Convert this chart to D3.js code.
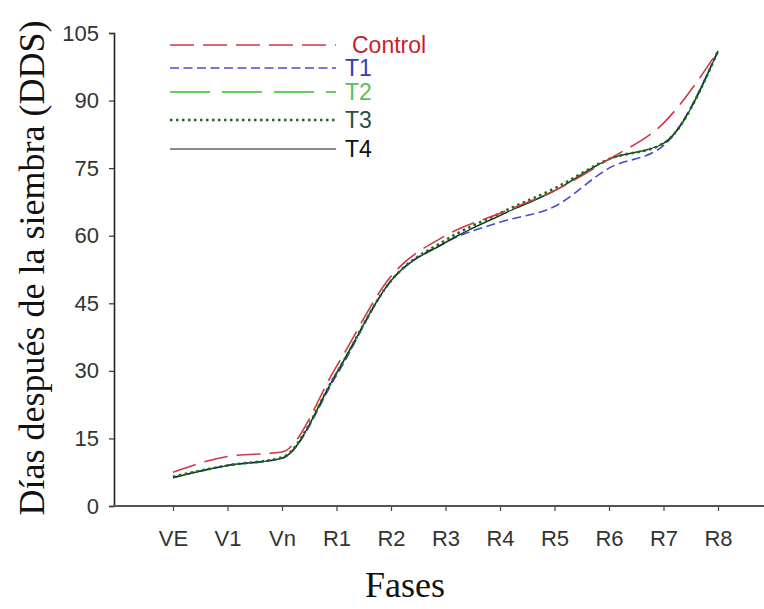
<!DOCTYPE html>
<html>
<head>
<meta charset="utf-8">
<script src="https://cdn.jsdelivr.net/npm/d3@7"></script>
<style>
  html, body { margin: 0; padding: 0; background: #fff; }
  svg { display: block; }
</style>
</head>
<body>
<svg id="chart" width="764" height="609"></svg>
<script>
const categories = ["VE","V1","Vn","R1","R2","R3","R4","R5","R6","R7","R8"];
const yTicks = [0, 15, 30, 45, 60, 75, 90, 105];
const controlValues = [7.5, 11, 12, 31, 51, 60, 65, 70, 77, 85, 101];
const t1Values = [6.3, 9, 10.6, 29, 50, 58.5, 63, 66.5, 75, 80, 101];
const t2Values = [6.3, 9, 10.6, 29.5, 50, 58.5, 64.5, 70, 77, 80.5, 101];
const t3Values = [6.5, 9, 10.8, 29.5, 50, 59, 65, 70.5, 77, 80.5, 101];
const t4Values = [6.3, 9, 10.6, 29.5, 50, 58.5, 64.5, 70, 77, 80.5, 101];
const seriesNames = ["Control", "T1", "T2", "T3", "T4"];

const styles = {
  Control: {color: "#d0384a", text: "#c81e30", dash: "24,9", width: 1.6},
  T1: {color: "#4a4ad0", text: "#3a3ab0", dash: "9,4.5", width: 1.6},
  T2: {color: "#5ed05e", text: "#58c058", dash: "40,12", width: 1.8},
  T3: {color: "#1e6a1e", text: "#2e4e3e", dash: "2.5,3.5", width: 2.6},
  T4: {color: "#1a1a1a", text: "#111", dash: null, width: 1.1}
};
const seriesData = {
  Control: controlValues, T1: t1Values, T2: t2Values, T3: t3Values, T4: t4Values
};

const svg = d3.select("#chart");
const x = d3.scalePoint().domain(categories).range([173, 718]);
const y = d3.scaleLinear().domain([0, 105]).range([506, 33]);

// Y axis
const yAxis = svg.append("g")
  .attr("transform", "translate(114,0)")
  .call(d3.axisLeft(y).tickValues(yTicks).tickSize(5).tickPadding(10));
yAxis.select(".domain").attr("stroke", "#222").attr("stroke-width", 1.6);
yAxis.selectAll(".tick line").attr("stroke", "#333").attr("stroke-width", 1.2);
yAxis.selectAll("text").attr("font-family", "Liberation Sans, Arial, sans-serif")
  .attr("font-size", 22).attr("fill", "#333");

// X axis
const xAxis = svg.append("g")
  .attr("transform", "translate(0,506)")
  .call(d3.axisBottom(x).tickSize(5).tickPadding(19));
xAxis.select(".domain").remove();
xAxis.selectAll(".tick line").attr("stroke", "#444").attr("stroke-width", 1.2);
xAxis.selectAll("text").attr("font-family", "Liberation Sans, Arial, sans-serif")
  .attr("font-size", 22).attr("fill", "#333");
svg.append("line").attr("x1", 113).attr("x2", 764).attr("y1", 506).attr("y2", 506)
  .attr("stroke", "#555").attr("stroke-width", 2);

// Lines
const line = d3.line()
  .x((d, i) => x(categories[i]))
  .y(d => y(d))
  .curve(d3.curveMonotoneX);

["T2", "T1", "T4", "T3", "Control"].forEach(name => {
  const s = styles[name];
  svg.append("path")
    .datum(seriesData[name])
    .attr("d", line)
    .attr("fill", "none")
    .attr("stroke", s.color)
    .attr("stroke-width", s.width)
    .attr("stroke-dasharray", s.dash);
});

// Legend
const legendY = [45, 68, 92, 120, 149];
const legend = svg.append("g");
seriesNames.forEach((name, i) => {
  const s = styles[name];
  legend.append("line")
    .attr("x1", 170).attr("x2", 336)
    .attr("y1", legendY[i]).attr("y2", legendY[i])
    .attr("stroke", s.color)
    .attr("stroke-width", s.width)
    .attr("stroke-dasharray", s.dash);
  legend.append("text")
    .attr("x", i === 0 ? 352 : 345)
    .attr("y", legendY[i])
    .attr("dy", "0.36em")
    .attr("font-family", "Liberation Sans, Arial, sans-serif")
    .attr("font-size", 23)
    .attr("fill", s.text)
    .text(name);
});

// Axis titles
svg.append("text")
  .attr("transform", "translate(44,268) rotate(-90)")
  .attr("text-anchor", "middle")
  .attr("font-family", "Liberation Serif, Times New Roman, serif")
  .attr("font-size", 36)
  .attr("fill", "#111")
  .text("Días después de la siembra (DDS)");
svg.append("text")
  .attr("x", 405).attr("y", 597)
  .attr("text-anchor", "middle")
  .attr("font-family", "Liberation Serif, Times New Roman, serif")
  .attr("font-size", 36)
  .attr("fill", "#111")
  .text("Fases");
</script>
</body>
</html>
